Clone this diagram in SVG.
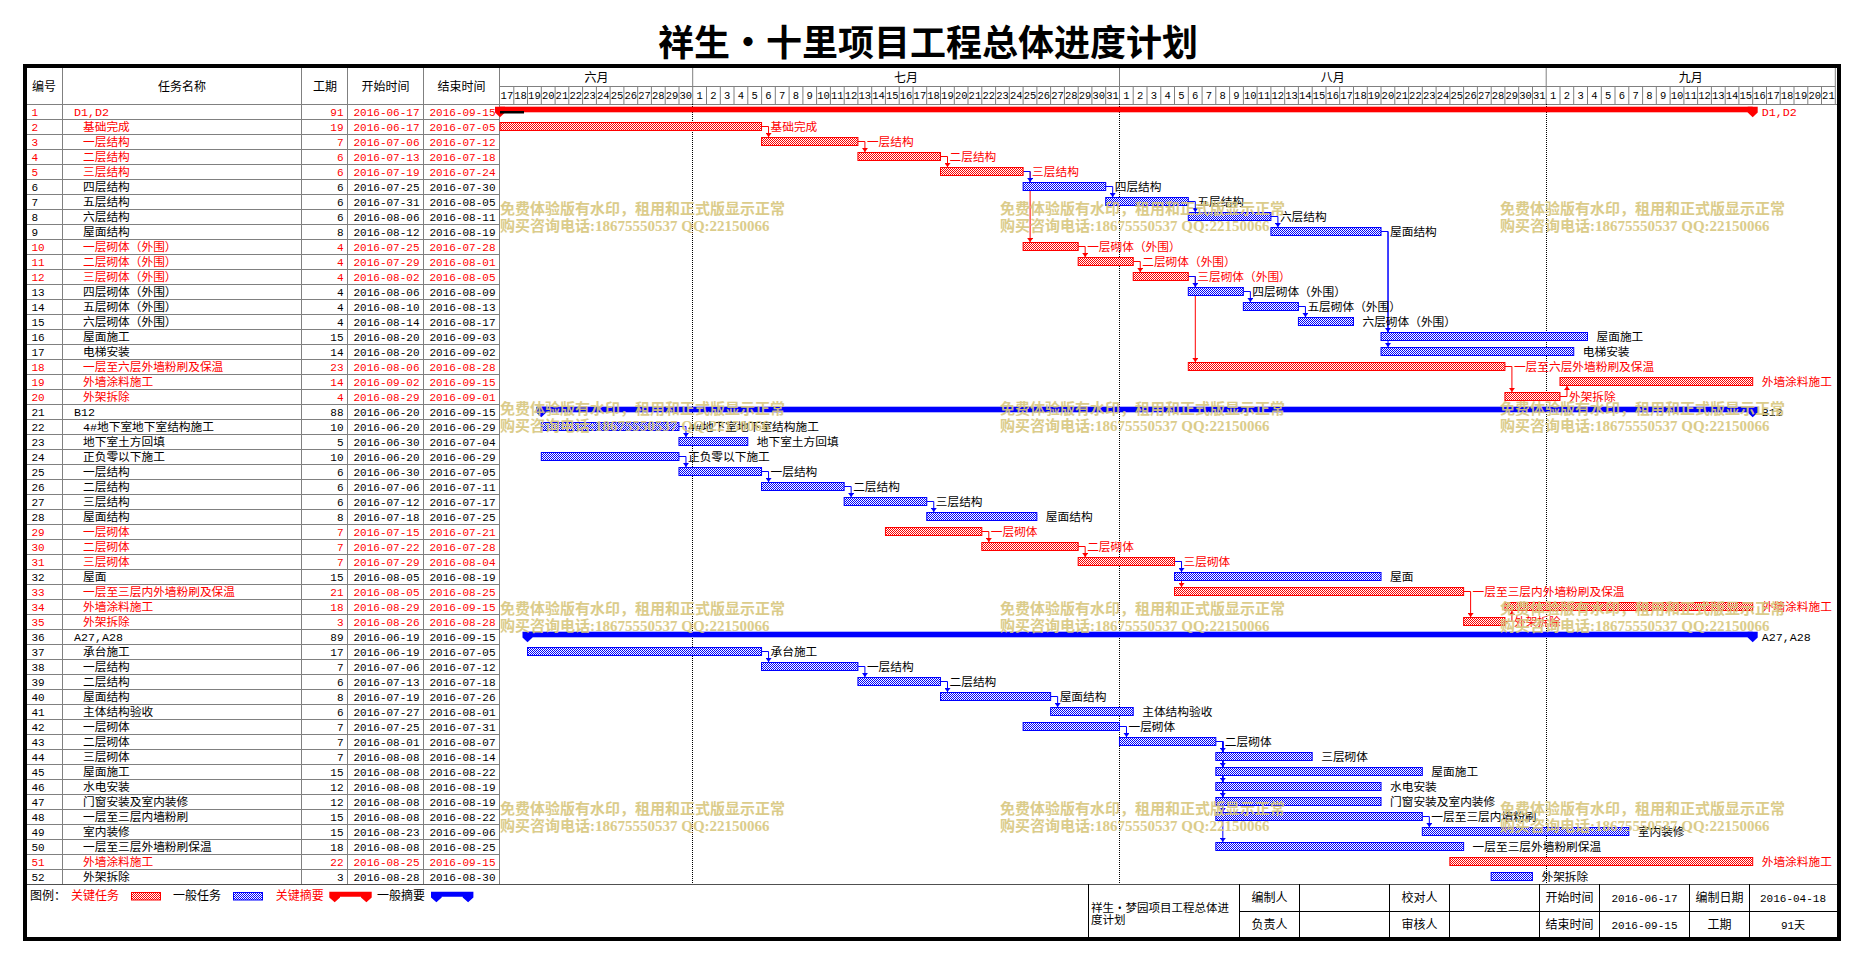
<svg xmlns="http://www.w3.org/2000/svg" width="1863" height="963" viewBox="0 0 1863 963">
<style>
text{font-family:"Liberation Mono","Noto Sans CJK SC",monospace;font-size:11px;fill:#000}
.nm{font-size:11.7px}
.cj{font-family:"Noto Sans CJK SC","Liberation Sans",sans-serif;font-size:12px}
.e{text-anchor:end}
.c{text-anchor:middle}
.rd text{fill:#f00}
.br{fill:url(#hr);stroke:#f00;stroke-width:1}
.bb{fill:url(#hb);stroke:#00f;stroke-width:1}
.sr{fill:#f00}
.sb{fill:#00f}
.g{fill:none;stroke:#808080;stroke-width:1}
.k{fill:none;stroke:#000;stroke-width:1}
.dt{fill:none;stroke:#000;stroke-width:1;stroke-dasharray:1 1}
.lr{fill:none;stroke:#f00;stroke-width:1}
.lb{fill:none;stroke:#00f;stroke-width:1}
.dn{font-size:10.5px;text-anchor:middle}
.wm text{font-family:"Liberation Serif","Noto Sans CJK SC",serif;font-size:15px;font-weight:bold;fill:#D8C77E;opacity:.9}
</style>
<defs>
<pattern id="hr" width="2" height="2" patternUnits="userSpaceOnUse"><rect width="2" height="2" fill="#fff"/><rect width="1" height="1" fill="#f00"/><rect x="1" y="1" width="1" height="1" fill="#f00"/></pattern>
<pattern id="hb" width="2" height="2" patternUnits="userSpaceOnUse"><rect width="2" height="2" fill="#fff"/><rect width="1" height="1" fill="#00f"/><rect x="1" y="1" width="1" height="1" fill="#00f"/></pattern>
<marker id="mr" viewBox="0 0 4 6" refX="4" refY="3" markerWidth="4" markerHeight="6" markerUnits="userSpaceOnUse" orient="auto"><path d="M0,0L4,3L0,6z" fill="#f00"/></marker>
<marker id="mb" viewBox="0 0 4 6" refX="4" refY="3" markerWidth="4" markerHeight="6" markerUnits="userSpaceOnUse" orient="auto"><path d="M0,0L4,3L0,6z" fill="#00f"/></marker>
</defs>
<rect width="1863" height="963" fill="#fff"/>
<text x="928" y="56" class="c" style="font-family:'Noto Sans CJK SC',sans-serif;font-size:36px;font-weight:bold">祥生・十里项目工程总体进度计划</text>

<g id="grid">
<path class="g" d="M62.5 68V884M301.5 68V884M347.5 68V884M423.5 68V884M499.5 68V884M25 104.5H1837M500 86.5H1835.3M692.7 68v36M1119.5 68v36M1546.2 68v36M1835.3 68v36"/>
<path class="g" d="M25 119.5H500M25 134.5H500M25 149.5H500M25 164.5H500M25 179.5H500M25 194.5H500M25 209.5H500M25 224.5H500M25 239.5H500M25 254.5H500M25 269.5H500M25 284.5H500M25 299.5H500M25 314.5H500M25 329.5H500M25 344.5H500M25 359.5H500M25 374.5H500M25 389.5H500M25 404.5H500M25 419.5H500M25 434.5H500M25 449.5H500M25 464.5H500M25 479.5H500M25 494.5H500M25 509.5H500M25 524.5H500M25 539.5H500M25 554.5H500M25 569.5H500M25 584.5H500M25 599.5H500M25 614.5H500M25 629.5H500M25 644.5H500M25 659.5H500M25 674.5H500M25 689.5H500M25 704.5H500M25 719.5H500M25 734.5H500M25 749.5H500M25 764.5H500M25 779.5H500M25 794.5H500M25 809.5H500M25 824.5H500M25 839.5H500M25 854.5H500M25 869.5H500"/>
<path d="M25 884.5H1837" stroke="#505050" stroke-width="1" fill="none"/>
<path class="g" d="M513.8 86v18M527.5 86v18M541.3 86v18M555.1 86v18M568.8 86v18M582.6 86v18M596.4 86v18M610.1 86v18M623.9 86v18M637.7 86v18M651.4 86v18M665.2 86v18M679 86v18M706.5 86v18M720.3 86v18M734 86v18M747.8 86v18M761.6 86v18M775.3 86v18M789.1 86v18M802.9 86v18M816.6 86v18M830.4 86v18M844.2 86v18M857.9 86v18M871.7 86v18M885.4 86v18M899.2 86v18M913 86v18M926.7 86v18M940.5 86v18M954.3 86v18M968 86v18M981.8 86v18M995.6 86v18M1009.3 86v18M1023.1 86v18M1036.9 86v18M1050.6 86v18M1064.4 86v18M1078.2 86v18M1091.9 86v18M1105.7 86v18M1133.2 86v18M1147 86v18M1160.8 86v18M1174.5 86v18M1188.3 86v18M1202.1 86v18M1215.8 86v18M1229.6 86v18M1243.4 86v18M1257.1 86v18M1270.9 86v18M1284.7 86v18M1298.4 86v18M1312.2 86v18M1326 86v18M1339.7 86v18M1353.5 86v18M1367.3 86v18M1381 86v18M1394.8 86v18M1408.6 86v18M1422.3 86v18M1436.1 86v18M1449.9 86v18M1463.6 86v18M1477.4 86v18M1491.2 86v18M1504.9 86v18M1518.7 86v18M1532.5 86v18M1560 86v18M1573.7 86v18M1587.5 86v18M1601.3 86v18M1615 86v18M1628.8 86v18M1642.6 86v18M1656.3 86v18M1670.1 86v18M1683.9 86v18M1697.6 86v18M1711.4 86v18M1725.2 86v18M1738.9 86v18M1752.7 86v18M1766.5 86v18M1780.2 86v18M1794 86v18M1807.8 86v18M1821.5 86v18"/>
<path class="dt" d="M692.5 104V884M1119.5 104V884M1546.5 104V884"/>
</g>

<g id="header">
<text class="cj c" x="44" y="91">编号</text>
<text class="cj c" x="182" y="91">任务名称</text>
<text class="cj c" x="325" y="91">工期</text>
<text class="cj c" x="385.5" y="91">开始时间</text>
<text class="cj c" x="461.5" y="91">结束时间</text>
<text class="cj c" x="596.4" y="81.5">六月</text>
<text class="cj c" x="906.1" y="81.5">七月</text>
<text class="cj c" x="1332.8" y="81.5">八月</text>
<text class="cj c" x="1690.8" y="81.5">九月</text>
<text class="dn" y="99"><tspan x="506.9">17</tspan><tspan x="520.6">18</tspan><tspan x="534.4">19</tspan><tspan x="548.2">20</tspan><tspan x="561.9">21</tspan><tspan x="575.7">22</tspan><tspan x="589.5">23</tspan><tspan x="603.2">24</tspan><tspan x="617">25</tspan><tspan x="630.8">26</tspan><tspan x="644.5">27</tspan><tspan x="658.3">28</tspan><tspan x="672.1">29</tspan><tspan x="685.8">30</tspan><tspan x="699.6">1</tspan><tspan x="713.4">2</tspan><tspan x="727.1">3</tspan><tspan x="740.9">4</tspan><tspan x="754.7">5</tspan><tspan x="768.4">6</tspan><tspan x="782.2">7</tspan><tspan x="796">8</tspan><tspan x="809.7">9</tspan><tspan x="823.5">10</tspan><tspan x="837.3">11</tspan><tspan x="851">12</tspan><tspan x="864.8">13</tspan><tspan x="878.6">14</tspan><tspan x="892.3">15</tspan><tspan x="906.1">16</tspan><tspan x="919.9">17</tspan><tspan x="933.6">18</tspan><tspan x="947.4">19</tspan><tspan x="961.2">20</tspan><tspan x="974.9">21</tspan><tspan x="988.7">22</tspan><tspan x="1002.5">23</tspan><tspan x="1016.2">24</tspan><tspan x="1030">25</tspan><tspan x="1043.8">26</tspan><tspan x="1057.5">27</tspan><tspan x="1071.3">28</tspan><tspan x="1085.1">29</tspan><tspan x="1098.8">30</tspan><tspan x="1112.6">31</tspan><tspan x="1126.4">1</tspan><tspan x="1140.1">2</tspan><tspan x="1153.9">3</tspan><tspan x="1167.7">4</tspan><tspan x="1181.4">5</tspan><tspan x="1195.2">6</tspan><tspan x="1209">7</tspan><tspan x="1222.7">8</tspan><tspan x="1236.5">9</tspan><tspan x="1250.3">10</tspan><tspan x="1264">11</tspan><tspan x="1277.8">12</tspan><tspan x="1291.5">13</tspan><tspan x="1305.3">14</tspan><tspan x="1319.1">15</tspan><tspan x="1332.8">16</tspan><tspan x="1346.6">17</tspan><tspan x="1360.4">18</tspan><tspan x="1374.1">19</tspan><tspan x="1387.9">20</tspan><tspan x="1401.7">21</tspan><tspan x="1415.4">22</tspan><tspan x="1429.2">23</tspan><tspan x="1443">24</tspan><tspan x="1456.7">25</tspan><tspan x="1470.5">26</tspan><tspan x="1484.3">27</tspan><tspan x="1498">28</tspan><tspan x="1511.8">29</tspan><tspan x="1525.6">30</tspan><tspan x="1539.3">31</tspan><tspan x="1553.1">1</tspan><tspan x="1566.9">2</tspan><tspan x="1580.6">3</tspan><tspan x="1594.4">4</tspan><tspan x="1608.2">5</tspan><tspan x="1621.9">6</tspan><tspan x="1635.7">7</tspan><tspan x="1649.5">8</tspan><tspan x="1663.2">9</tspan><tspan x="1677">10</tspan><tspan x="1690.8">11</tspan><tspan x="1704.5">12</tspan><tspan x="1718.3">13</tspan><tspan x="1732.1">14</tspan><tspan x="1745.8">15</tspan><tspan x="1759.6">16</tspan><tspan x="1773.4">17</tspan><tspan x="1787.1">18</tspan><tspan x="1800.9">19</tspan><tspan x="1814.7">20</tspan><tspan x="1828.4">21</tspan></text>
</g>

<g id="connectors">
<g class="lr" marker-end="url(#mr)">
<path d="M761.55,126.5H768.55V137"/>
<path d="M857.92,141.5H864.92V152"/>
<path d="M940.51,156.5H947.51V167"/>
<path d="M1023.11,171.5H1030.11V242"/>
<path d="M1078.17,246.5H1085.17V257"/>
<path d="M1133.24,261.5H1140.24V272"/>
<path d="M1188.3,276.5H1195.3V362"/>
<path d="M1504.92,366.5H1511.92V392"/>
<path d="M1559.98,396.5H1566.98V386"/>
<path d="M981.81,531.5H988.81V542"/>
<path d="M1078.17,546.5H1085.17V557"/>
<path d="M1174.53,561.5H1181.53V587"/>
<path d="M1463.62,591.5H1470.62V617"/>
<path d="M1504.92,621.5H1511.92V611"/>
</g>
<g class="lb" marker-end="url(#mb)">
<path d="M1023.11,171.5H1030.11V182"/>
<path d="M1105.7,186.5H1112.7V197"/>
<path d="M1188.3,201.5H1195.3V212"/>
<path d="M1270.9,216.5H1277.9V227"/>
<path d="M1188.3,276.5H1195.3V287"/>
<path d="M1243.36,291.5H1250.36V302"/>
<path d="M1298.43,306.5H1305.43V317"/>
<path d="M1381.02,231.5H1388.02V332"/>
<path d="M1381.02,231.5H1388.02V347"/>
<path d="M678.96,426.5H685.96V437"/>
<path d="M678.96,456.5H685.96V467"/>
<path d="M761.55,471.5H768.55V482"/>
<path d="M844.15,486.5H851.15V497"/>
<path d="M926.75,501.5H933.75V512"/>
<path d="M1174.53,561.5H1181.53V572"/>
<path d="M761.55,651.5H768.55V662"/>
<path d="M857.92,666.5H864.92V677"/>
<path d="M940.51,681.5H947.51V692"/>
<path d="M1050.64,696.5H1057.64V707"/>
<path d="M1119.47,726.5H1126.47V737"/>
<path d="M1215.83,741.5H1222.83V752"/>
<path d="M1215.83,741.5H1222.83V767"/>
<path d="M1215.83,741.5H1222.83V782"/>
<path d="M1215.83,741.5H1222.83V797"/>
<path d="M1215.83,741.5H1222.83V812"/>
<path d="M1215.83,741.5H1222.83V842"/>
<path d="M1422.32,816.5H1429.32V827"/>
</g>
</g>

<g id="r1" class="rd"><text x="31.5" y="116">1</text><text class="nm" x="74" y="116">D1,D2</text><text class="e" x="343.5" y="116">91</text><text class="e" x="419.5" y="116">2016-06-17</text><text class="e" x="495.5" y="116">2016-09-15</text><rect class="sr" x="500" y="106.7" width="1252.71" height="5.6"/><polygon class="sr" points="495,106.7 505,106.7 505,112.5 500,117.3 495,112.5"/><polygon class="sr" points="1747.7,106.7 1757.7,106.7 1757.7,112.5 1752.7,117.3 1747.7,112.5"/><rect x="500" y="111" width="24" height="2.5" fill="#000"/><text class="nm" x="1761.7" y="116">D1,D2</text></g>
<g id="r2" class="rd"><text x="31.5" y="131">2</text><text class="nm" x="83" y="131">基础完成</text><text class="e" x="343.5" y="131">19</text><text class="e" x="419.5" y="131">2016-06-17</text><text class="e" x="495.5" y="131">2016-07-05</text><rect class="br" x="500" y="122.5" width="261.55" height="8"/><text class="nm" x="770.55" y="131">基础完成</text></g>
<g id="r3" class="rd"><text x="31.5" y="146">3</text><text class="nm" x="83" y="146">一层结构</text><text class="e" x="343.5" y="146">7</text><text class="e" x="419.5" y="146">2016-07-06</text><text class="e" x="495.5" y="146">2016-07-12</text><rect class="br" x="761.55" y="137.5" width="96.37" height="8"/><text class="nm" x="866.92" y="146">一层结构</text></g>
<g id="r4" class="rd"><text x="31.5" y="161">4</text><text class="nm" x="83" y="161">二层结构</text><text class="e" x="343.5" y="161">6</text><text class="e" x="419.5" y="161">2016-07-13</text><text class="e" x="495.5" y="161">2016-07-18</text><rect class="br" x="857.92" y="152.5" width="82.59" height="8"/><text class="nm" x="949.51" y="161">二层结构</text></g>
<g id="r5" class="rd"><text x="31.5" y="176">5</text><text class="nm" x="83" y="176">三层结构</text><text class="e" x="343.5" y="176">6</text><text class="e" x="419.5" y="176">2016-07-19</text><text class="e" x="495.5" y="176">2016-07-24</text><rect class="br" x="940.51" y="167.5" width="82.6" height="8"/><text class="nm" x="1032.11" y="176">三层结构</text></g>
<g id="r6"><text x="31.5" y="191">6</text><text class="nm" x="83" y="191">四层结构</text><text class="e" x="343.5" y="191">6</text><text class="e" x="419.5" y="191">2016-07-25</text><text class="e" x="495.5" y="191">2016-07-30</text><rect class="bb" x="1023.11" y="182.5" width="82.59" height="8"/><text class="nm" x="1114.7" y="191">四层结构</text></g>
<g id="r7"><text x="31.5" y="206">7</text><text class="nm" x="83" y="206">五层结构</text><text class="e" x="343.5" y="206">6</text><text class="e" x="419.5" y="206">2016-07-31</text><text class="e" x="495.5" y="206">2016-08-05</text><rect class="bb" x="1105.7" y="197.5" width="82.6" height="8"/><text class="nm" x="1197.3" y="206">五层结构</text></g>
<g id="r8"><text x="31.5" y="221">8</text><text class="nm" x="83" y="221">六层结构</text><text class="e" x="343.5" y="221">6</text><text class="e" x="419.5" y="221">2016-08-06</text><text class="e" x="495.5" y="221">2016-08-11</text><rect class="bb" x="1188.3" y="212.5" width="82.6" height="8"/><text class="nm" x="1279.9" y="221">六层结构</text></g>
<g id="r9"><text x="31.5" y="236">9</text><text class="nm" x="83" y="236">屋面结构</text><text class="e" x="343.5" y="236">8</text><text class="e" x="419.5" y="236">2016-08-12</text><text class="e" x="495.5" y="236">2016-08-19</text><rect class="bb" x="1270.9" y="227.5" width="110.12" height="8"/><text class="nm" x="1390.02" y="236">屋面结构</text></g>
<g id="r10" class="rd"><text x="31.5" y="251">10</text><text class="nm" x="83" y="251">一层砌体（外围）</text><text class="e" x="343.5" y="251">4</text><text class="e" x="419.5" y="251">2016-07-25</text><text class="e" x="495.5" y="251">2016-07-28</text><rect class="br" x="1023.11" y="242.5" width="55.06" height="8"/><text class="nm" x="1087.17" y="251">一层砌体（外围）</text></g>
<g id="r11" class="rd"><text x="31.5" y="266">11</text><text class="nm" x="83" y="266">二层砌体（外围）</text><text class="e" x="343.5" y="266">4</text><text class="e" x="419.5" y="266">2016-07-29</text><text class="e" x="495.5" y="266">2016-08-01</text><rect class="br" x="1078.17" y="257.5" width="55.07" height="8"/><text class="nm" x="1142.24" y="266">二层砌体（外围）</text></g>
<g id="r12" class="rd"><text x="31.5" y="281">12</text><text class="nm" x="83" y="281">三层砌体（外围）</text><text class="e" x="343.5" y="281">4</text><text class="e" x="419.5" y="281">2016-08-02</text><text class="e" x="495.5" y="281">2016-08-05</text><rect class="br" x="1133.24" y="272.5" width="55.06" height="8"/><text class="nm" x="1197.3" y="281">三层砌体（外围）</text></g>
<g id="r13"><text x="31.5" y="296">13</text><text class="nm" x="83" y="296">四层砌体（外围）</text><text class="e" x="343.5" y="296">4</text><text class="e" x="419.5" y="296">2016-08-06</text><text class="e" x="495.5" y="296">2016-08-09</text><rect class="bb" x="1188.3" y="287.5" width="55.06" height="8"/><text class="nm" x="1252.36" y="296">四层砌体（外围）</text></g>
<g id="r14"><text x="31.5" y="311">14</text><text class="nm" x="83" y="311">五层砌体（外围）</text><text class="e" x="343.5" y="311">4</text><text class="e" x="419.5" y="311">2016-08-10</text><text class="e" x="495.5" y="311">2016-08-13</text><rect class="bb" x="1243.36" y="302.5" width="55.07" height="8"/><text class="nm" x="1307.43" y="311">五层砌体（外围）</text></g>
<g id="r15"><text x="31.5" y="326">15</text><text class="nm" x="83" y="326">六层砌体（外围）</text><text class="e" x="343.5" y="326">4</text><text class="e" x="419.5" y="326">2016-08-14</text><text class="e" x="495.5" y="326">2016-08-17</text><rect class="bb" x="1298.43" y="317.5" width="55.06" height="8"/><text class="nm" x="1362.49" y="326">六层砌体（外围）</text></g>
<g id="r16"><text x="31.5" y="341">16</text><text class="nm" x="83" y="341">屋面施工</text><text class="e" x="343.5" y="341">15</text><text class="e" x="419.5" y="341">2016-08-20</text><text class="e" x="495.5" y="341">2016-09-03</text><rect class="bb" x="1381.02" y="332.5" width="206.49" height="8"/><text class="nm" x="1596.51" y="341">屋面施工</text></g>
<g id="r17"><text x="31.5" y="356">17</text><text class="nm" x="83" y="356">电梯安装</text><text class="e" x="343.5" y="356">14</text><text class="e" x="419.5" y="356">2016-08-20</text><text class="e" x="495.5" y="356">2016-09-02</text><rect class="bb" x="1381.02" y="347.5" width="192.73" height="8"/><text class="nm" x="1582.75" y="356">电梯安装</text></g>
<g id="r18" class="rd"><text x="31.5" y="371">18</text><text class="nm" x="83" y="371">一层至六层外墙粉刷及保温</text><text class="e" x="343.5" y="371">23</text><text class="e" x="419.5" y="371">2016-08-06</text><text class="e" x="495.5" y="371">2016-08-28</text><rect class="br" x="1188.3" y="362.5" width="316.62" height="8"/><text class="nm" x="1513.92" y="371">一层至六层外墙粉刷及保温</text></g>
<g id="r19" class="rd"><text x="31.5" y="386">19</text><text class="nm" x="83" y="386">外墙涂料施工</text><text class="e" x="343.5" y="386">14</text><text class="e" x="419.5" y="386">2016-09-02</text><text class="e" x="495.5" y="386">2016-09-15</text><rect class="br" x="1559.98" y="377.5" width="192.73" height="8"/><text class="nm" x="1761.71" y="386">外墙涂料施工</text></g>
<g id="r20" class="rd"><text x="31.5" y="401">20</text><text class="nm" x="83" y="401">外架拆除</text><text class="e" x="343.5" y="401">4</text><text class="e" x="419.5" y="401">2016-08-29</text><text class="e" x="495.5" y="401">2016-09-01</text><rect class="br" x="1504.92" y="392.5" width="55.06" height="8"/><text class="nm" x="1568.98" y="401">外架拆除</text></g>
<g id="r21"><text x="31.5" y="416">21</text><text class="nm" x="74" y="416">B12</text><text class="e" x="343.5" y="416">88</text><text class="e" x="419.5" y="416">2016-06-20</text><text class="e" x="495.5" y="416">2016-09-15</text><rect class="sb" x="541.3" y="406.7" width="1211.41" height="5.6"/><polygon class="sb" points="536.3,406.7 546.3,406.7 546.3,412.5 541.3,417.3 536.3,412.5"/><polygon class="sb" points="1747.7,406.7 1757.7,406.7 1757.7,412.5 1752.7,417.3 1747.7,412.5"/><text class="nm" x="1761.7" y="416">B12</text></g>
<g id="r22"><text x="31.5" y="431">22</text><text class="nm" x="83" y="431">4#地下室地下室结构施工</text><text class="e" x="343.5" y="431">10</text><text class="e" x="419.5" y="431">2016-06-20</text><text class="e" x="495.5" y="431">2016-06-29</text><rect class="bb" x="541.3" y="422.5" width="137.66" height="8"/><text class="nm" x="687.96" y="431">4#地下室地下室结构施工</text></g>
<g id="r23"><text x="31.5" y="446">23</text><text class="nm" x="83" y="446">地下室土方回填</text><text class="e" x="343.5" y="446">5</text><text class="e" x="419.5" y="446">2016-06-30</text><text class="e" x="495.5" y="446">2016-07-04</text><rect class="bb" x="678.96" y="437.5" width="68.83" height="8"/><text class="nm" x="756.79" y="446">地下室土方回填</text></g>
<g id="r24"><text x="31.5" y="461">24</text><text class="nm" x="83" y="461">正负零以下施工</text><text class="e" x="343.5" y="461">10</text><text class="e" x="419.5" y="461">2016-06-20</text><text class="e" x="495.5" y="461">2016-06-29</text><rect class="bb" x="541.3" y="452.5" width="137.66" height="8"/><text class="nm" x="687.96" y="461">正负零以下施工</text></g>
<g id="r25"><text x="31.5" y="476">25</text><text class="nm" x="83" y="476">一层结构</text><text class="e" x="343.5" y="476">6</text><text class="e" x="419.5" y="476">2016-06-30</text><text class="e" x="495.5" y="476">2016-07-05</text><rect class="bb" x="678.96" y="467.5" width="82.59" height="8"/><text class="nm" x="770.55" y="476">一层结构</text></g>
<g id="r26"><text x="31.5" y="491">26</text><text class="nm" x="83" y="491">二层结构</text><text class="e" x="343.5" y="491">6</text><text class="e" x="419.5" y="491">2016-07-06</text><text class="e" x="495.5" y="491">2016-07-11</text><rect class="bb" x="761.55" y="482.5" width="82.6" height="8"/><text class="nm" x="853.15" y="491">二层结构</text></g>
<g id="r27"><text x="31.5" y="506">27</text><text class="nm" x="83" y="506">三层结构</text><text class="e" x="343.5" y="506">6</text><text class="e" x="419.5" y="506">2016-07-12</text><text class="e" x="495.5" y="506">2016-07-17</text><rect class="bb" x="844.15" y="497.5" width="82.6" height="8"/><text class="nm" x="935.75" y="506">三层结构</text></g>
<g id="r28"><text x="31.5" y="521">28</text><text class="nm" x="83" y="521">屋面结构</text><text class="e" x="343.5" y="521">8</text><text class="e" x="419.5" y="521">2016-07-18</text><text class="e" x="495.5" y="521">2016-07-25</text><rect class="bb" x="926.75" y="512.5" width="110.12" height="8"/><text class="nm" x="1045.87" y="521">屋面结构</text></g>
<g id="r29" class="rd"><text x="31.5" y="536">29</text><text class="nm" x="83" y="536">一层砌体</text><text class="e" x="343.5" y="536">7</text><text class="e" x="419.5" y="536">2016-07-15</text><text class="e" x="495.5" y="536">2016-07-21</text><rect class="br" x="885.45" y="527.5" width="96.36" height="8"/><text class="nm" x="990.81" y="536">一层砌体</text></g>
<g id="r30" class="rd"><text x="31.5" y="551">30</text><text class="nm" x="83" y="551">二层砌体</text><text class="e" x="343.5" y="551">7</text><text class="e" x="419.5" y="551">2016-07-22</text><text class="e" x="495.5" y="551">2016-07-28</text><rect class="br" x="981.81" y="542.5" width="96.36" height="8"/><text class="nm" x="1087.17" y="551">二层砌体</text></g>
<g id="r31" class="rd"><text x="31.5" y="566">31</text><text class="nm" x="83" y="566">三层砌体</text><text class="e" x="343.5" y="566">7</text><text class="e" x="419.5" y="566">2016-07-29</text><text class="e" x="495.5" y="566">2016-08-04</text><rect class="br" x="1078.17" y="557.5" width="96.36" height="8"/><text class="nm" x="1183.53" y="566">三层砌体</text></g>
<g id="r32"><text x="31.5" y="581">32</text><text class="nm" x="83" y="581">屋面</text><text class="e" x="343.5" y="581">15</text><text class="e" x="419.5" y="581">2016-08-05</text><text class="e" x="495.5" y="581">2016-08-19</text><rect class="bb" x="1174.53" y="572.5" width="206.49" height="8"/><text class="nm" x="1390.02" y="581">屋面</text></g>
<g id="r33" class="rd"><text x="31.5" y="596">33</text><text class="nm" x="83" y="596">一层至三层内外墙粉刷及保温</text><text class="e" x="343.5" y="596">21</text><text class="e" x="419.5" y="596">2016-08-05</text><text class="e" x="495.5" y="596">2016-08-25</text><rect class="br" x="1174.53" y="587.5" width="289.09" height="8"/><text class="nm" x="1472.62" y="596">一层至三层内外墙粉刷及保温</text></g>
<g id="r34" class="rd"><text x="31.5" y="611">34</text><text class="nm" x="83" y="611">外墙涂料施工</text><text class="e" x="343.5" y="611">18</text><text class="e" x="419.5" y="611">2016-08-29</text><text class="e" x="495.5" y="611">2016-09-15</text><rect class="br" x="1504.92" y="602.5" width="247.79" height="8"/><text class="nm" x="1761.71" y="611">外墙涂料施工</text></g>
<g id="r35" class="rd"><text x="31.5" y="626">35</text><text class="nm" x="83" y="626">外架拆除</text><text class="e" x="343.5" y="626">3</text><text class="e" x="419.5" y="626">2016-08-26</text><text class="e" x="495.5" y="626">2016-08-28</text><rect class="br" x="1463.62" y="617.5" width="41.3" height="8"/><text class="nm" x="1513.92" y="626">外架拆除</text></g>
<g id="r36"><text x="31.5" y="641">36</text><text class="nm" x="74" y="641">A27,A28</text><text class="e" x="343.5" y="641">89</text><text class="e" x="419.5" y="641">2016-06-19</text><text class="e" x="495.5" y="641">2016-09-15</text><rect class="sb" x="527.53" y="631.7" width="1225.18" height="5.6"/><polygon class="sb" points="522.5,631.7 532.5,631.7 532.5,637.5 527.5,642.3 522.5,637.5"/><polygon class="sb" points="1747.7,631.7 1757.7,631.7 1757.7,637.5 1752.7,642.3 1747.7,637.5"/><text class="nm" x="1761.7" y="641">A27,A28</text></g>
<g id="r37"><text x="31.5" y="656">37</text><text class="nm" x="83" y="656">承台施工</text><text class="e" x="343.5" y="656">17</text><text class="e" x="419.5" y="656">2016-06-19</text><text class="e" x="495.5" y="656">2016-07-05</text><rect class="bb" x="527.53" y="647.5" width="234.02" height="8"/><text class="nm" x="770.55" y="656">承台施工</text></g>
<g id="r38"><text x="31.5" y="671">38</text><text class="nm" x="83" y="671">一层结构</text><text class="e" x="343.5" y="671">7</text><text class="e" x="419.5" y="671">2016-07-06</text><text class="e" x="495.5" y="671">2016-07-12</text><rect class="bb" x="761.55" y="662.5" width="96.37" height="8"/><text class="nm" x="866.92" y="671">一层结构</text></g>
<g id="r39"><text x="31.5" y="686">39</text><text class="nm" x="83" y="686">二层结构</text><text class="e" x="343.5" y="686">6</text><text class="e" x="419.5" y="686">2016-07-13</text><text class="e" x="495.5" y="686">2016-07-18</text><rect class="bb" x="857.92" y="677.5" width="82.59" height="8"/><text class="nm" x="949.51" y="686">二层结构</text></g>
<g id="r40"><text x="31.5" y="701">40</text><text class="nm" x="83" y="701">屋面结构</text><text class="e" x="343.5" y="701">8</text><text class="e" x="419.5" y="701">2016-07-19</text><text class="e" x="495.5" y="701">2016-07-26</text><rect class="bb" x="940.51" y="692.5" width="110.13" height="8"/><text class="nm" x="1059.64" y="701">屋面结构</text></g>
<g id="r41"><text x="31.5" y="716">41</text><text class="nm" x="83" y="716">主体结构验收</text><text class="e" x="343.5" y="716">6</text><text class="e" x="419.5" y="716">2016-07-27</text><text class="e" x="495.5" y="716">2016-08-01</text><rect class="bb" x="1050.64" y="707.5" width="82.6" height="8"/><text class="nm" x="1142.24" y="716">主体结构验收</text></g>
<g id="r42"><text x="31.5" y="731">42</text><text class="nm" x="83" y="731">一层砌体</text><text class="e" x="343.5" y="731">7</text><text class="e" x="419.5" y="731">2016-07-25</text><text class="e" x="495.5" y="731">2016-07-31</text><rect class="bb" x="1023.11" y="722.5" width="96.36" height="8"/><text class="nm" x="1128.47" y="731">一层砌体</text></g>
<g id="r43"><text x="31.5" y="746">43</text><text class="nm" x="83" y="746">二层砌体</text><text class="e" x="343.5" y="746">7</text><text class="e" x="419.5" y="746">2016-08-01</text><text class="e" x="495.5" y="746">2016-08-07</text><rect class="bb" x="1119.47" y="737.5" width="96.36" height="8"/><text class="nm" x="1224.83" y="746">二层砌体</text></g>
<g id="r44"><text x="31.5" y="761">44</text><text class="nm" x="83" y="761">三层砌体</text><text class="e" x="343.5" y="761">7</text><text class="e" x="419.5" y="761">2016-08-08</text><text class="e" x="495.5" y="761">2016-08-14</text><rect class="bb" x="1215.83" y="752.5" width="96.36" height="8"/><text class="nm" x="1321.19" y="761">三层砌体</text></g>
<g id="r45"><text x="31.5" y="776">45</text><text class="nm" x="83" y="776">屋面施工</text><text class="e" x="343.5" y="776">15</text><text class="e" x="419.5" y="776">2016-08-08</text><text class="e" x="495.5" y="776">2016-08-22</text><rect class="bb" x="1215.83" y="767.5" width="206.49" height="8"/><text class="nm" x="1431.32" y="776">屋面施工</text></g>
<g id="r46"><text x="31.5" y="791">46</text><text class="nm" x="83" y="791">水电安装</text><text class="e" x="343.5" y="791">12</text><text class="e" x="419.5" y="791">2016-08-08</text><text class="e" x="495.5" y="791">2016-08-19</text><rect class="bb" x="1215.83" y="782.5" width="165.19" height="8"/><text class="nm" x="1390.02" y="791">水电安装</text></g>
<g id="r47"><text x="31.5" y="806">47</text><text class="nm" x="83" y="806">门窗安装及室内装修</text><text class="e" x="343.5" y="806">12</text><text class="e" x="419.5" y="806">2016-08-08</text><text class="e" x="495.5" y="806">2016-08-19</text><rect class="bb" x="1215.83" y="797.5" width="165.19" height="8"/><text class="nm" x="1390.02" y="806">门窗安装及室内装修</text></g>
<g id="r48"><text x="31.5" y="821">48</text><text class="nm" x="83" y="821">一层至三层内墙粉刷</text><text class="e" x="343.5" y="821">15</text><text class="e" x="419.5" y="821">2016-08-08</text><text class="e" x="495.5" y="821">2016-08-22</text><rect class="bb" x="1215.83" y="812.5" width="206.49" height="8"/><text class="nm" x="1431.32" y="821">一层至三层内墙粉刷</text></g>
<g id="r49"><text x="31.5" y="836">49</text><text class="nm" x="83" y="836">室内装修</text><text class="e" x="343.5" y="836">15</text><text class="e" x="419.5" y="836">2016-08-23</text><text class="e" x="495.5" y="836">2016-09-06</text><rect class="bb" x="1422.32" y="827.5" width="206.49" height="8"/><text class="nm" x="1637.81" y="836">室内装修</text></g>
<g id="r50"><text x="31.5" y="851">50</text><text class="nm" x="83" y="851">一层至三层外墙粉刷保温</text><text class="e" x="343.5" y="851">18</text><text class="e" x="419.5" y="851">2016-08-08</text><text class="e" x="495.5" y="851">2016-08-25</text><rect class="bb" x="1215.83" y="842.5" width="247.79" height="8"/><text class="nm" x="1472.62" y="851">一层至三层外墙粉刷保温</text></g>
<g id="r51" class="rd"><text x="31.5" y="866">51</text><text class="nm" x="83" y="866">外墙涂料施工</text><text class="e" x="343.5" y="866">22</text><text class="e" x="419.5" y="866">2016-08-25</text><text class="e" x="495.5" y="866">2016-09-15</text><rect class="br" x="1449.85" y="857.5" width="302.86" height="8"/><text class="nm" x="1761.71" y="866">外墙涂料施工</text></g>
<g id="r52"><text x="31.5" y="881">52</text><text class="nm" x="83" y="881">外架拆除</text><text class="e" x="343.5" y="881">3</text><text class="e" x="419.5" y="881">2016-08-28</text><text class="e" x="495.5" y="881">2016-08-30</text><rect class="bb" x="1491.15" y="872.5" width="41.3" height="8"/><text class="nm" x="1541.45" y="881">外架拆除</text></g>

<g id="legend">
<text class="cj" x="30" y="900">图例：</text>
<text class="cj" x="71" y="900" style="fill:#f00">关键任务</text>
<rect class="br" x="131.5" y="892.5" width="29" height="7.5"/>
<text class="cj" x="173" y="900">一般任务</text>
<rect class="bb" x="233.5" y="892.5" width="29" height="7.5"/>
<text class="cj" x="275.7" y="900" style="fill:#f00">关键摘要</text>
<path class="sr" d="M329.3,891.7H371.7V897.5L366.4,902.3L361,897.5V896.7H340V897.5L334.7,902.3L329.3,897.5Z"/>
<text class="cj" x="377" y="900">一般摘要</text>
<path class="sb" d="M431,891.7H473.4V897.5L468.1,902.3L462.7,897.5V896.7H441.7V897.5L436.4,902.3L431,897.5Z"/>
</g>

<g id="footer">
<path class="k" d="M1088.5 884V937M1239.5 884V937M1299.5 884V937M1389.5 884V937M1449.5 884V937M1539.5 884V937M1599.5 884V937M1689.5 884V937M1749.5 884V937M1239.5 911.5H1837"/>
<text class="cj" x="1091" y="912" style="font-size:11.5px">祥生・梦园项目工程总体进</text>
<text class="cj" x="1091" y="924" style="font-size:11.5px">度计划</text>
<text class="cj c" x="1269.5" y="902">编制人</text>
<text class="cj c" x="1419.5" y="902">校对人</text>
<text class="cj c" x="1569.5" y="902">开始时间</text>
<text class="c" x="1644.5" y="902">2016-06-17</text>
<text class="cj c" x="1719.5" y="902">编制日期</text>
<text class="c" x="1793" y="902">2016-04-18</text>
<text class="cj c" x="1269.5" y="929">负责人</text>
<text class="cj c" x="1419.5" y="929">审核人</text>
<text class="cj c" x="1569.5" y="929">结束时间</text>
<text class="c" x="1644.5" y="929">2016-09-15</text>
<text class="cj c" x="1719.5" y="929">工期</text>
<text class="c" x="1793" y="929">91天</text>
</g>

<rect id="frame" x="25" y="66" width="1814" height="873" fill="none" stroke="#000" stroke-width="4"/>

<g id="watermark" class="wm">
<text x="500" y="214">免费体验版有水印，租用和正式版显示正常</text><text x="500" y="231">购买咨询电话:18675550537 QQ:22150066</text>
<text x="1000" y="214">免费体验版有水印，租用和正式版显示正常</text><text x="1000" y="231">购买咨询电话:18675550537 QQ:22150066</text>
<text x="1500" y="214">免费体验版有水印，租用和正式版显示正常</text><text x="1500" y="231">购买咨询电话:18675550537 QQ:22150066</text>
<text x="500" y="414">免费体验版有水印，租用和正式版显示正常</text><text x="500" y="431">购买咨询电话:18675550537 QQ:22150066</text>
<text x="1000" y="414">免费体验版有水印，租用和正式版显示正常</text><text x="1000" y="431">购买咨询电话:18675550537 QQ:22150066</text>
<text x="1500" y="414">免费体验版有水印，租用和正式版显示正常</text><text x="1500" y="431">购买咨询电话:18675550537 QQ:22150066</text>
<text x="500" y="614">免费体验版有水印，租用和正式版显示正常</text><text x="500" y="631">购买咨询电话:18675550537 QQ:22150066</text>
<text x="1000" y="614">免费体验版有水印，租用和正式版显示正常</text><text x="1000" y="631">购买咨询电话:18675550537 QQ:22150066</text>
<text x="1500" y="614">免费体验版有水印，租用和正式版显示正常</text><text x="1500" y="631">购买咨询电话:18675550537 QQ:22150066</text>
<text x="500" y="814">免费体验版有水印，租用和正式版显示正常</text><text x="500" y="831">购买咨询电话:18675550537 QQ:22150066</text>
<text x="1000" y="814">免费体验版有水印，租用和正式版显示正常</text><text x="1000" y="831">购买咨询电话:18675550537 QQ:22150066</text>
<text x="1500" y="814">免费体验版有水印，租用和正式版显示正常</text><text x="1500" y="831">购买咨询电话:18675550537 QQ:22150066</text>
</g>
</svg>
